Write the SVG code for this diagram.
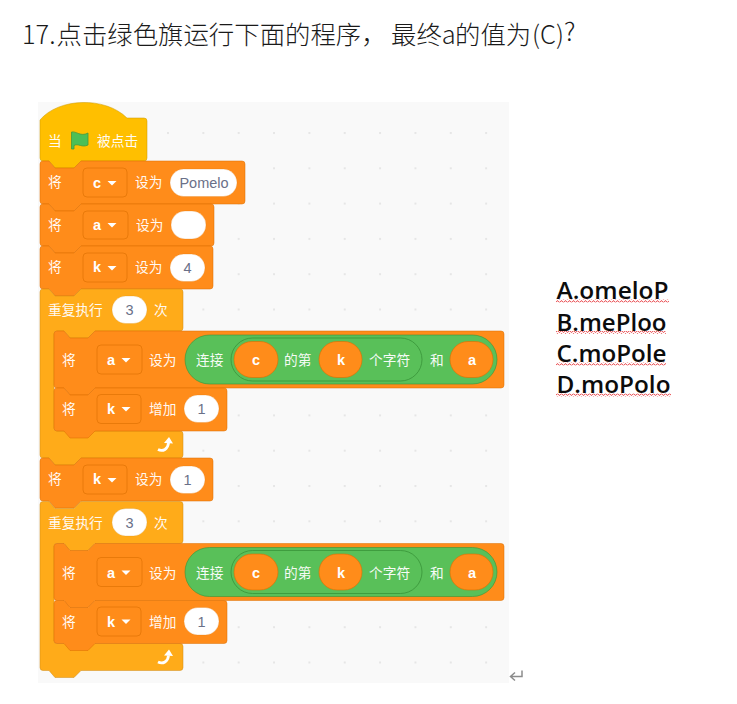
<svg xmlns="http://www.w3.org/2000/svg" width="737" height="704" viewBox="0 0 737 704">
<style>
text{font-family:"Noto Sans CJK SC","Liberation Sans",sans-serif}
.w{fill:#fff;font-size:13.7px;opacity:.95}
.l{fill:#fff;font-family:"Liberation Sans",sans-serif;font-weight:700;font-size:14.5px;text-anchor:middle}
.n{fill:#6a7088;font-family:"Liberation Sans",sans-serif;font-size:14.5px;text-anchor:middle}
.t{fill:#1a1a1a;font-size:25.4px;font-weight:300}
.opt{fill:#0c0c0c;font-family:"Open Sans","Liberation Sans",sans-serif;font-weight:600;font-size:22.5px}
.o{fill:#ff8c1a;stroke:#db6e00;stroke-opacity:.5}
.c{fill:#ffab19;stroke:#cf8b17;stroke-opacity:.5}
.h{fill:#ffbf00;stroke:#cc9900;stroke-opacity:.5}
.d{fill:#ff8c1a;stroke:#db6e00;stroke-opacity:.6}
.p{fill:#fff;stroke:#db6e00;stroke-opacity:.25}
.g{fill:#59c059;stroke:#389438;stroke-opacity:.6}
.i{fill:none;stroke:#389438;stroke-opacity:.8}
.r{fill:#ff8c1a;stroke:#db6e00;stroke-opacity:.6}
</style>
<defs>
<pattern id="dots" x="167" y="132" width="35.35" height="35.3" patternUnits="userSpaceOnUse"><rect width="2" height="2" fill="#e6e6e6"/></pattern>
<pattern id="wave" width="4" height="3" patternUnits="userSpaceOnUse"><path d="M0 2.300L1 .8 2 .8 3 2.300 4 2.300" fill="none" stroke="#e8474b" stroke-width=".9"/></pattern>
<path id="tri" d="M-4.500-2H4.500L0 2.500z" fill="#fff"/>
<g id="ret"><path d="M-7 5.500C-2 8 3 5 3.500-1" fill="none" stroke="#fff" stroke-width="2.800"/><path d="M-1-1L4-7 8-.5z" fill="#fff"/></g>
</defs>
<g id="canvas"><rect x="38" y="102" width="471" height="581" fill="#f9f9f9"/><rect x="38" y="102" width="471" height="581" fill="url(#dots)"/></g>
<g id="title"><text class="t" y="44"><tspan x="22">17.</tspan><tspan x="56.500">点击绿色旗运行下面的程序，</tspan><tspan x="391">最终a</tspan><tspan x="455">的值为</tspan><tspan x="532">(C)</tspan><tspan x="564" dy="-3">?</tspan></text></g>

<g id="hat"><path class="h" d="M40 158V120C58 98 105 96 127 118H144a3 3 0 0 1 3 3V158a3 3 0 0 1-3 3H81l-7 7H55l-6-7H43a3 3 0 0 1-3-3z"/>
<text class="w" x="48" y="146">当</text>
<path d="M71.500 132c5-1 9 5 16.500 1v12c-6 3-10-2-14 .5V149h-2.500z" fill="#4cbf56" stroke="#45993d" stroke-width=".8"/>
<text class="w" x="97" y="146">被点击</text></g>

<g id="set-c"><path class="o" d="M40 164a3 3 0 0 1 3-3h6l6 7h19l7-7H242a3 3 0 0 1 3 3V201a3 3 0 0 1-3 3H81l-7 7H55l-6-7H43a3 3 0 0 1-3-3z"/>
<text class="w" x="48" y="187">将</text><rect class="d" x="83" y="168" width="44" height="29" rx="4"/><text class="l" x="97" y="188">c</text><use href="#tri" x="112" y="183"/>
<text class="w" x="135" y="187">设为</text><rect class="p" x="170" y="169" width="67" height="27.500" rx="13.700"/><text class="n" x="204" y="188">Pomelo</text></g>

<g id="set-a"><path class="o" d="M40 207a3 3 0 0 1 3-3h6l6 7h19l7-7H211a3 3 0 0 1 3 3V243a3 3 0 0 1-3 3H81l-7 7H55l-6-7H43a3 3 0 0 1-3-3z"/>
<text class="w" x="48" y="230">将</text><rect class="d" x="83" y="211" width="45" height="28" rx="4"/><text class="l" x="97" y="230">a</text><use href="#tri" x="112" y="225"/>
<text class="w" x="136" y="230">设为</text><rect class="p" x="171" y="211" width="35" height="28" rx="14"/></g>

<g id="set-k"><path class="o" d="M40 249a3 3 0 0 1 3-3h6l6 7h19l7-7H210a3 3 0 0 1 3 3V286a3 3 0 0 1-3 3H81l-7 7H55l-6-7H43a3 3 0 0 1-3-3z"/>
<text class="w" x="48" y="272">将</text><rect class="d" x="83" y="253" width="44" height="29" rx="4"/><text class="l" x="97" y="272">k</text><use href="#tri" x="112" y="268"/>
<text class="w" x="135" y="272">设为</text><rect class="p" x="170" y="254" width="35" height="27.500" rx="13.700"/><text class="n" x="187.500" y="273">4</text></g>

<g id="repeat-1">
<path class="c" d="M40 292a3 3 0 0 1 3-3h6l6 7h19l7-7H180a3 3 0 0 1 3 3V328a3 3 0 0 1-3 3H95l-7 7H70l-6-7H57a3 3 0 0 0-3 3V428a3 3 0 0 0 3 3H180a3 3 0 0 1 3 3V455a3 3 0 0 1-3 3H81l-7 7H55l-6-7H43a3 3 0 0 1-3-3z"/>
<text class="w" x="48" y="315">重复执行</text><rect class="p" x="112" y="296" width="35" height="27.500" rx="13.700" style="stroke:#cf8b17"/><text class="n" x="129.500" y="315">3</text><text class="w" x="154" y="315">次</text>
<use href="#ret" x="165" y="444"/>
<g id="set-a-join-1"><path class="o" d="M54 334a3 3 0 0 1 3-3h7l6 7h18l7-7H501a3 3 0 0 1 3 3V385a3 3 0 0 1-3 3H95l-7 7H70l-6-7H57a3 3 0 0 1-3-3z"/>
<text class="w" x="62" y="365">将</text><rect class="d" x="97" y="345" width="45" height="29" rx="4"/><text class="l" x="111" y="365">a</text><use href="#tri" x="126" y="360"/>
<text class="w" x="149" y="365">设为</text>
<rect class="g" x="185" y="335" width="312" height="49" rx="24.500"/><text class="w" x="196" y="365">连接</text>
<rect class="i" x="231" y="338" width="191" height="43" rx="21.500"/>
<rect class="r" x="234" y="341.500" width="44" height="36" rx="18"/><text class="l" x="256" y="365">c</text>
<text class="w" x="284" y="365">的第</text>
<rect class="r" x="319" y="341.500" width="43" height="36" rx="18"/><text class="l" x="341" y="365">k</text>
<text class="w" x="369" y="365">个字符</text><text class="w" x="430" y="365">和</text>
<rect class="r" x="450" y="341.500" width="43" height="36" rx="18"/><text class="l" x="472" y="365">a</text></g>
<g id="inc-k-1"><path class="o" d="M54 391a3 3 0 0 1 3-3h7l6 7h18l7-7H224a3 3 0 0 1 3 3V428a3 3 0 0 1-3 3H95l-7 7H70l-6-7H57a3 3 0 0 1-3-3z"/>
<text class="w" x="62" y="414">将</text><rect class="d" x="97" y="394.500" width="44" height="29" rx="4"/><text class="l" x="111" y="414">k</text><use href="#tri" x="126" y="409"/>
<text class="w" x="149" y="414">增加</text><rect class="p" x="184" y="395" width="35" height="27.500" rx="13.700"/><text class="n" x="201.500" y="414">1</text></g>
</g>

<g id="set-k-2" transform="translate(0 212)"><path class="o" d="M40 249a3 3 0 0 1 3-3h6l6 7h19l7-7H210a3 3 0 0 1 3 3V286a3 3 0 0 1-3 3H81l-7 7H55l-6-7H43a3 3 0 0 1-3-3z"/>
<text class="w" x="48" y="272">将</text><rect class="d" x="83" y="253" width="44" height="29" rx="4"/><text class="l" x="97" y="272">k</text><use href="#tri" x="112" y="268"/>
<text class="w" x="135" y="272">设为</text><rect class="p" x="170" y="254" width="35" height="27.500" rx="13.700"/><text class="n" x="187.500" y="273">1</text></g>

<g id="repeat-2" transform="translate(0 212.500)">
<path class="c" d="M40 292a3 3 0 0 1 3-3h6l6 7h19l7-7H180a3 3 0 0 1 3 3V328a3 3 0 0 1-3 3H95l-7 7H70l-6-7H57a3 3 0 0 0-3 3V428a3 3 0 0 0 3 3H180a3 3 0 0 1 3 3V455a3 3 0 0 1-3 3H81l-7 7H55l-6-7H43a3 3 0 0 1-3-3z"/>
<text class="w" x="48" y="315">重复执行</text><rect class="p" x="112" y="296" width="35" height="27.500" rx="13.700" style="stroke:#cf8b17"/><text class="n" x="129.500" y="315">3</text><text class="w" x="154" y="315">次</text>
<use href="#ret" x="165" y="444"/>
<g id="set-a-join-2"><path class="o" d="M54 334a3 3 0 0 1 3-3h7l6 7h18l7-7H501a3 3 0 0 1 3 3V385a3 3 0 0 1-3 3H95l-7 7H70l-6-7H57a3 3 0 0 1-3-3z"/>
<text class="w" x="62" y="365">将</text><rect class="d" x="97" y="345" width="45" height="29" rx="4"/><text class="l" x="111" y="365">a</text><use href="#tri" x="126" y="360"/>
<text class="w" x="149" y="365">设为</text>
<rect class="g" x="185" y="335" width="312" height="49" rx="24.500"/><text class="w" x="196" y="365">连接</text>
<rect class="i" x="231" y="338" width="191" height="43" rx="21.500"/>
<rect class="r" x="234" y="341.500" width="44" height="36" rx="18"/><text class="l" x="256" y="365">c</text>
<text class="w" x="284" y="365">的第</text>
<rect class="r" x="319" y="341.500" width="43" height="36" rx="18"/><text class="l" x="341" y="365">k</text>
<text class="w" x="369" y="365">个字符</text><text class="w" x="430" y="365">和</text>
<rect class="r" x="450" y="341.500" width="43" height="36" rx="18"/><text class="l" x="472" y="365">a</text></g>
<g id="inc-k-2"><path class="o" d="M54 391a3 3 0 0 1 3-3h7l6 7h18l7-7H224a3 3 0 0 1 3 3V428a3 3 0 0 1-3 3H95l-7 7H70l-6-7H57a3 3 0 0 1-3-3z"/>
<text class="w" x="62" y="414">将</text><rect class="d" x="97" y="394.500" width="44" height="29" rx="4"/><text class="l" x="111" y="414">k</text><use href="#tri" x="126" y="409"/>
<text class="w" x="149" y="414">增加</text><rect class="p" x="184" y="395" width="35" height="27.500" rx="13.700"/><text class="n" x="201.500" y="414">1</text></g>
</g>

<path id="return-mark" d="M522 670.500V676.500H511M515 672.500L510.500 676.500L515 680.500" fill="none" stroke="#8c8c8c" stroke-width="1.500"/>

<g id="options">
<text class="opt" x="556.500" y="299" textLength="112" lengthAdjust="spacingAndGlyphs">A.omeloP</text><rect x="556" y="299.500" width="113" height="3" fill="url(#wave)"/>
<text class="opt" x="556.500" y="330.500" textLength="110" lengthAdjust="spacingAndGlyphs">B.mePloo</text><rect x="556" y="331" width="110" height="3" fill="url(#wave)"/>
<text class="opt" x="556.500" y="362" textLength="110" lengthAdjust="spacingAndGlyphs">C.moPole</text><rect x="556" y="362.500" width="110" height="3" fill="url(#wave)"/>
<text class="opt" x="556.500" y="393" textLength="114" lengthAdjust="spacingAndGlyphs">D.moPolo</text><rect x="556" y="393.500" width="115" height="3" fill="url(#wave)"/>
</g>
</svg>
